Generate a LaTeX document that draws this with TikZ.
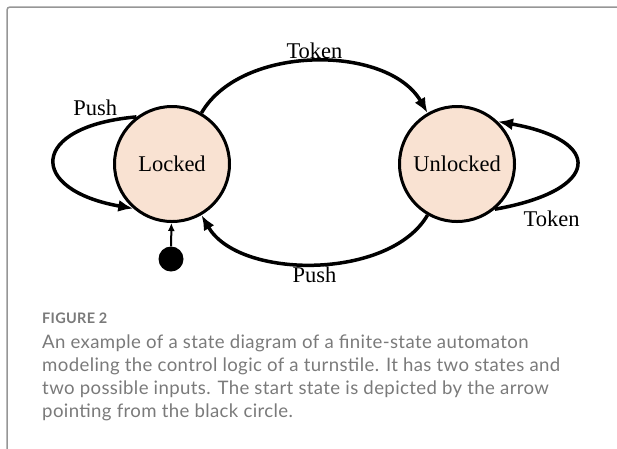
\documentclass[tikz,border=0pt]{standalone}
\usepackage{fontspec}
\setmainfont{Liberation Serif}
\newfontfamily\capfont[LetterSpace=2]{Lato}
\usetikzlibrary{arrows.meta}
\definecolor{peach}{RGB}{249,226,210}
\definecolor{capgray}{RGB}{122,122,122}
\definecolor{framegray}{RGB}{150,150,150}
\begin{document}
\begin{tikzpicture}[x=1pt, y=1pt,
       every node/.style={font=\fontsize{22.5}{27}\selectfont},
       stnode/.style={circle, draw, line width=3pt, fill=peach,
             minimum size=115pt, inner sep=0pt},
       trans/.style={line width=3.5pt, -{Latex[length=15pt,width=12pt]}},
       lbl/.style={inner sep=1pt},
       captext/.style={font=\capfont\fontsize{18.6}{23}\selectfont, text=capgray,
             align=left, inner sep=0pt, anchor=north west}]
\useasboundingbox (0,0) rectangle (617,-448);
\draw[framegray, line width=1.5pt, rounded corners=3pt] (7,-7) rectangle (680,-500);
\node[stnode] (locked) at (172,-164) {Locked};
\node[stnode] (unlocked) at (457,-164) {Unlocked};
\node[circle, fill=black, minimum size=25pt, inner sep=0pt] (start) at (171,-259) {};
\draw[trans] (locked) to[out=60, in=120, looseness=0.9]
    node[lbl, above] {Token} (unlocked);
\draw[trans] (unlocked) to[out=-120, in=-60, looseness=0.85]
    node[lbl, below] {Push} (locked);
\draw[trans] (locked.127) to[out=185, in=170, distance=108pt]
    node[lbl, pos=0.15, above=6pt] {Push} (locked.229);
\draw[trans] (unlocked.-50) to[out=10, in=-10, distance=108pt]
    node[lbl, pos=0.06, below right, xshift=8pt, yshift=-3pt] {Token} (unlocked.46);
\draw[line width=2pt, -{Latex[length=8pt,width=7pt]}] (start) -- (locked);
\node[captext, font=\capfont\bfseries\fontsize{14.5}{17}\selectfont] (figlbl)
    at (42,-313) {FIGURE 2};
\node[captext] (caption) at (42,-335) {An example of a state diagram of a finite-state automaton\\
    modeling the control logic of a turnstile. It has two states and\\
    two possible inputs. The start state is depicted by the arrow\\
    pointing from the black circle.};
\end{tikzpicture}
\end{document}
